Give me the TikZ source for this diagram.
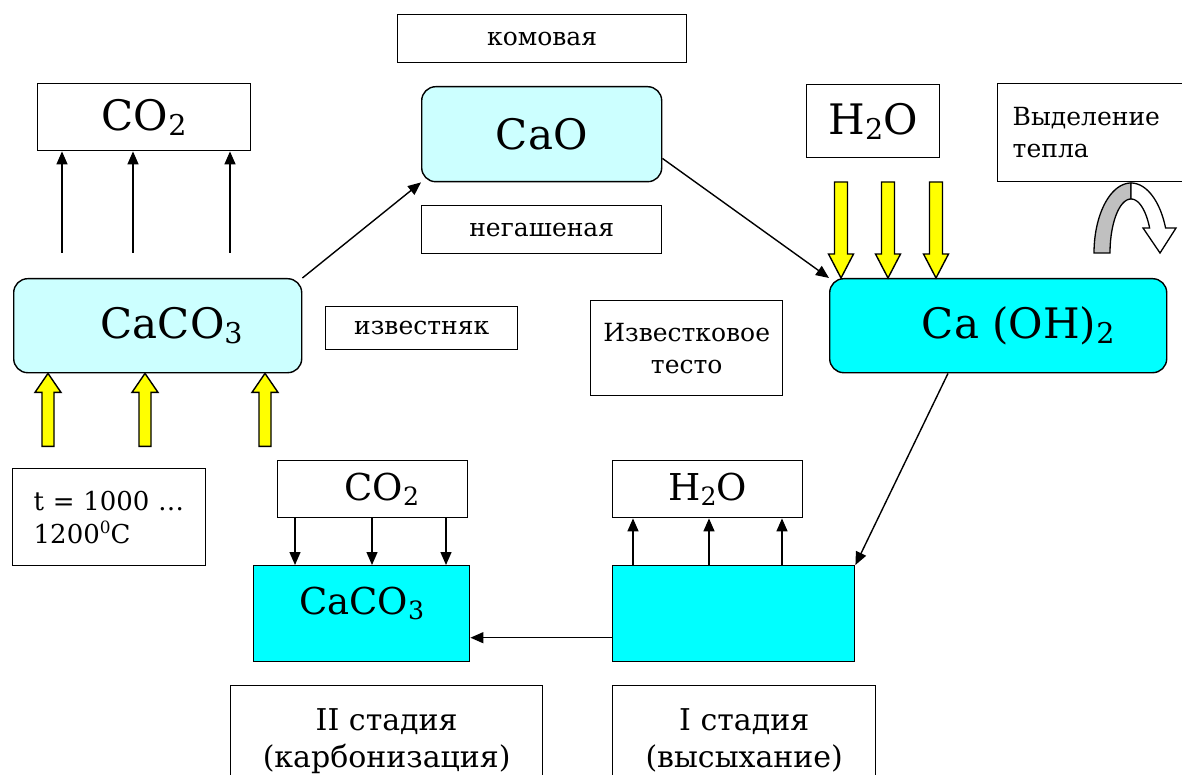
\documentclass[tikz,border=0pt]{standalone}
\usepackage{fontspec}
\usepackage{graphicx}
\setmainfont{DejaVu Serif}
\usetikzlibrary{calc,arrows.meta,positioning}
\definecolor{paleblue}{HTML}{CCFFFF}
\definecolor{brightcyan}{HTML}{00FFFF}
\definecolor{brightyellow}{HTML}{FFFF00}
\definecolor{heatgray}{HTML}{C0C0C0}
\newcommand\low[1]{\raisebox{-0.25ex}{\scalebox{0.68}{#1}}}
\newcommand\high[1]{\raisebox{0.75ex}{\scalebox{0.65}{#1}}}

\begin{document}
\begin{tikzpicture}[x=1pt,y=-1pt,
    box/.style={draw,line width=1.4pt,inner sep=0pt,anchor=north west},
    rbox/.style={box,rounded corners=14pt},
    arr/.style={line width=1.4pt,-{Triangle[length=13pt,width=11pt]}},
    yarrow/.style={draw,line width=1.4pt,fill=brightyellow,line join=miter},
    big/.style={font=\fontsize{42}{46}\selectfont},
    mid/.style={font=\fontsize{37}{40}\selectfont},
    note/.style={font=\fontsize{30}{37}\selectfont},
    small/.style={font=\fontsize{25}{32}\selectfont}]
  \useasboundingbox (0,0) rectangle (1182,775);

  % calcination
  \node[box,small,minimum width=289pt,minimum height=48pt] (komov) at (397,14) {комовая};
  \node[rbox,big,fill=paleblue,minimum width=240pt,minimum height=95pt] (cao) at (421,86) {CaO};
  \node[box,small,minimum width=240pt,minimum height=48pt] (negash) at (421,205) {негашеная};
  \node[box,big,minimum width=213pt,minimum height=67pt] (co2a) at (37,83) {CO\low{2}};
  \node[rbox,big,fill=paleblue,minimum width=288pt,minimum height=94pt] (caco3a) at (13,278) {\hspace{28pt}CaCO\low{3}};
  \node[box,small,minimum width=192pt,minimum height=43pt] (izv) at (325,306) {известняк};
  \node[box,small,align=center,minimum width=192pt,minimum height=95pt] (testo) at (590,300) {Известковое\\тесто};
  \node[box,font=\fontsize{26}{33}\selectfont,align=left,text width=175pt,minimum width=193pt,minimum height=97pt] (temp) at (12,468) {\hspace*{12pt}t = 1000 …\\\hspace*{12pt}1200\high{0}C};

  % slaking
  \node[box,big,minimum width=133pt,minimum height=73pt] (h2oa) at (806,84) {H\low{2}O};
  \node[box,small,align=left,text width=170pt,minimum width=200pt,minimum height=98pt] (heat) at (997,83) {Выделение\\тепла};
  \node[rbox,big,fill=brightcyan,minimum width=337pt,minimum height=94pt] (caoh) at (829,278) {\hspace{40pt}Ca (OH)\low{2}};

  % hardening
  \node[box,mid,minimum width=190pt,minimum height=57pt] (co2b) at (277,460) {\hspace{18pt}CO\low{2}};
  \node[box,mid,fill=brightcyan,minimum width=216pt,minimum height=96pt,text depth=26pt] (carb) at (253,565) {CaCO\low{3}};
  \node[box,mid,minimum width=190pt,minimum height=57pt] (h2ob) at (612,460) {H\low{2}O};
  \node[box,fill=brightcyan,minimum width=242pt,minimum height=96pt] (dry) at (612,565) {};
  \node[box,note,align=center,minimum width=312pt,minimum height=110pt] (stage2) at (230,685) {II стадия\\(карбонизация)};
  \node[box,note,align=center,minimum width=263pt,minimum height=110pt] (stage1) at (612,685) {I стадия\\(высыхание)};

  % connectors
  \draw[arr] (caco3a.north east) -- (cao.south west);
  \draw[arr] ($(cao.south east)+(0,-24)$) -- (caoh.north west);
  \draw[arr] ($(caoh.south west)+(119,0)$) -- (dry.north east);
  \draw[arr] ($(dry.west)+(0,24)$) -- ($(carb.east)+(0,24)$);

  \foreach \x in {62,133,230}
    \draw[arr] ($(caco3a.north -| \x,0)+(0,-25)$) -- (co2a.south -| \x,0);
  \foreach \x in {295,372,446}
    \draw[arr] (co2b.south -| \x,0) -- (carb.north -| \x,0);
  \foreach \x in {633,709,782}
    \draw[arr] (dry.north -| \x,0) -- (h2ob.south -| \x,0);

  % heat
  \foreach \x in {48,145,265}
    \draw[yarrow] (caco3a.south -| \x,0) -- ++(13,19) -- ++(-7,0) -- ++(0,54)
      -- ++(-12,0) -- ++(0,-54) -- ++(-7,0) -- cycle;
  \foreach \x in {841,888,936}
    \draw[yarrow] (caoh.north -| \x,0) -- ++(12.5,-24) -- ++(-6,0) -- ++(0,-72)
      -- ++(-13,0) -- ++(0,72) -- ++(-6,0) -- cycle;

  % heat release
  \def\cx{1131}
  \def\cy{253}
  \draw[line width=1.3pt,fill=heatgray]
    plot[domain=180:90,samples=30] ({\cx+37*cos(\x)},{\cy-70*sin(\x)})
    -- plot[domain=90:180,samples=30] ({\cx+21*cos(\x)},{\cy-54*sin(\x)}) -- cycle;
  \draw[line width=1.3pt,fill=white,line join=miter]
    plot[domain=90:21,samples=30] ({\cx+37*cos(\x)},{\cy-70*sin(\x)})
    -- (1176,228) -- (1160,253) -- (1143,228)
    -- plot[domain=27.6:90,samples=30] ({\cx+21*cos(\x)},{\cy-54*sin(\x)}) -- cycle;
\end{tikzpicture}
\end{document}
